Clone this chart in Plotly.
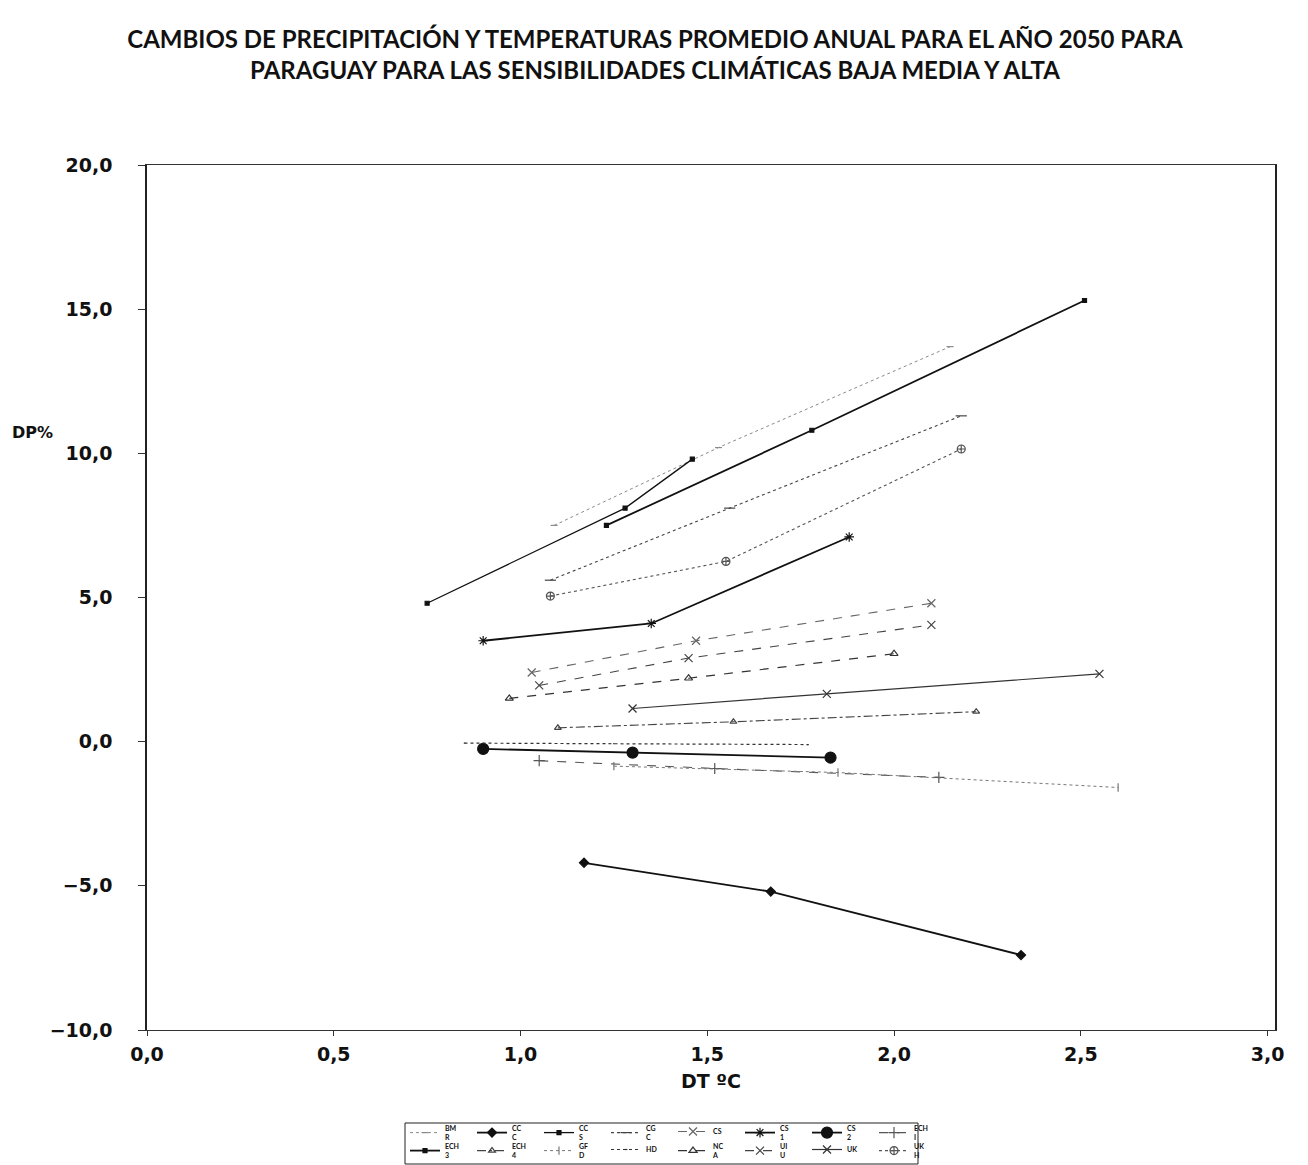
import plotly.graph_objects as go

# Data: DT (°C) and DP (%) for low / medium / high sensitivity
names = ["BM<br>R", "CC<br>C", "CC<br>S", "CG<br>C", "CS", "CS<br>1", "CS<br>2", "ECH<br>I",
         "ECH<br>3", "ECH<br>4", "GF<br>D", "HD", "NC<br>A", "UI<br>U", "UK", "UK<br>H"]

bmr_x = [1.09, 1.53, 2.15];  bmr_y = [7.5, 10.2, 13.7]
ccc_x = [1.17, 1.67, 2.34];  ccc_y = [-4.2, -5.2, -7.4]
ccs_x = [0.75, 1.28, 1.46];  ccs_y = [4.8, 8.1, 9.8]
cgc_x = [1.08, 1.56, 2.18];  cgc_y = [5.6, 8.1, 11.3]
cs_x = [1.03, 1.47, 2.10];   cs_y = [2.4, 3.5, 4.8]
cs1_x = [0.90, 1.35, 1.88];  cs1_y = [3.5, 4.1, 7.1]
cs2_x = [0.90, 1.30, 1.83];  cs2_y = [-0.25, -0.38, -0.55]
ech_x = [1.05, 1.52, 2.12];  ech_y = [-0.66, -0.93, -1.24]
ech3_x = [1.23, 1.78, 2.51]; ech3_y = [7.5, 10.8, 15.3]
ech4_x = [1.10, 1.57, 2.22]; ech4_y = [0.48, 0.69, 1.04]
gfd_x = [1.25, 1.85, 2.60];  gfd_y = [-0.85, -1.07, -1.59]
hd_x = [0.85, 1.25, 1.77];   hd_y = [-0.05, -0.07, -0.10]
nca_x = [0.97, 1.45, 2.00];  nca_y = [1.5, 2.2, 3.05]
uiu_x = [1.05, 1.45, 2.10];  uiu_y = [1.95, 2.9, 4.05]
uk_x = [1.30, 1.82, 2.55];   uk_y = [1.15, 1.66, 2.35]
ukh_x = [1.08, 1.55, 2.18];  ukh_y = [5.05, 6.25, 10.15]

xs = [bmr_x, ccc_x, ccs_x, cgc_x, cs_x, cs1_x, cs2_x, ech_x,
      ech3_x, ech4_x, gfd_x, hd_x, nca_x, uiu_x, uk_x, ukh_x]
ys = [bmr_y, ccc_y, ccs_y, cgc_y, cs_y, cs1_y, cs2_y, ech_y,
      ech3_y, ech4_y, gfd_y, hd_y, nca_y, uiu_y, uk_y, ukh_y]

x_ticks = [0, 0.5, 1.0, 1.5, 2.0, 2.5, 3.0]
y_ticks = [-10, -5, 0, 5, 10, 15, 20]

# styles: (line colour, width, dash, marker symbol, marker size)
styles = [
    ("#8a8a8a", 1.0, "dot", "line-ew-open", 5),
    ("#111111", 1.8, "solid", "diamond", 7),
    ("#111111", 1.3, "solid", "square", 4),
    ("#444444", 1.1, "dot", "line-ew-open", 8),
    ("#666666", 1.1, "dash", "x-thin-open", 8),
    ("#111111", 1.8, "solid", "asterisk-open", 8),
    ("#111111", 1.8, "solid", "circle", 11),
    ("#555555", 1.1, "dash", "cross-thin-open", 8),
    ("#111111", 1.8, "solid", "square", 4),
    ("#444444", 1.1, "dashdot", "triangle-up-open", 6),
    ("#777777", 1.0, "dot", "line-ns-open", 6),
    ("#333333", 1.2, "dot", "line-ew-open", 1),
    ("#333333", 1.2, "dash", "triangle-up-open", 7),
    ("#444444", 1.1, "dash", "x-thin-open", 8),
    ("#333333", 1.2, "solid", "x-thin-open", 8),
    ("#555555", 1.1, "dot", "circle-cross-open", 8),
]

# the page body adds an 8 px margin, so the figure is 8 px smaller and shifted
W, H, OFF = 1300, 1157, 8
PL, PR, PT, PB = 147 - OFF, 1275 - OFF, 165 - OFF, 1030 - OFF

fig = go.Figure()
for i, (n, x, y, st) in enumerate(zip(names, xs, ys, styles)):
    c, w, d, sym, sz = st
    fig.add_trace(go.Scatter(
        x=x, y=y, name=n, mode="lines+markers",
        line=dict(color=c, width=w, dash=d),
        marker=dict(symbol=sym, size=sz, color=c, line=dict(color=c, width=1.2)),
        legend="legend" if i < 8 else "legend2",
    ))

axis_font = dict(family="DejaVu Sans", size=19, color="#111111", weight="bold")
legend_common = dict(orientation="h", xref="container", yref="container",
                     xanchor="left", x=(405 - OFF) / W, yanchor="top",
                     font=dict(family="Lato", size=7, color="#111111", weight="bold"),
                     entrywidth=22, entrywidthmode="pixels", itemwidth=30,
                     bgcolor="rgba(0,0,0,0)", tracegroupgap=0, itemclick=False)

fig.update_layout(
    width=W, height=H,
    margin=dict(l=PL, r=W - PR, t=PT, b=H - PB, autoexpand=False),
    paper_bgcolor="white", plot_bgcolor="white",
    showlegend=True,
    title=dict(text="CAMBIOS DE PRECIPITACIÓN Y TEMPERATURAS PROMEDIO ANUAL PARA EL AÑO 2050 PARA<br>"
                    "PARAGUAY PARA LAS SENSIBILIDADES CLIMÁTICAS BAJA MEDIA Y ALTA",
               x=(655 - OFF) / W, xanchor="center", xref="container", yref="container",
               y=1 - (48 - OFF) / H, yanchor="top",
               font=dict(family="Lato", size=24, color="#111111", weight="bold")),
    separators=",.",
    xaxis=dict(range=[0, 3.02], tickvals=x_ticks, tickformat=".1f", showgrid=False, zeroline=False,
               showline=True, linecolor="#333333", linewidth=1, mirror=True,
               ticks="outside", ticklen=5, tickcolor="#333333", tickfont=axis_font,
               ticklabelstandoff=2,
               title=dict(text="DT ºC", font=dict(family="DejaVu Sans", size=19, color="#111111", weight="bold"),
                          standoff=10)),
    yaxis=dict(range=[-10, 20], tickvals=y_ticks, tickformat=".1f", showgrid=False, zeroline=False,
               showline=True, linecolor="#222222", linewidth=1.5, mirror=True,
               ticks="outside", ticklen=7, tickcolor="#333333", tickfont=axis_font,
               ticklabelstandoff=22),
    legend=dict(y=1 - (1117 - OFF) / H, **legend_common),
    legend2=dict(y=1 - (1135 - OFF) / H, **legend_common),
)

ph = PB - PT
pw = PR - PL
fig.add_annotation(text="DP%", xref="paper", yref="paper", x=-(PL - (10 - OFF)) / pw,
                   y=(PB - (433 - OFF)) / ph,
                   showarrow=False, xanchor="left", yanchor="middle",
                   font=dict(family="DejaVu Sans", size=16, color="#111111", weight="bold"))

fig.add_shape(type="rect", xref="paper", yref="paper",
              x0=(405 - 147) / pw, x1=(918 - 147) / pw,
              y0=-(H - 1 - PB) / ph, y1=-(1123 - 1030) / ph,
              line=dict(color="#222222", width=1), fillcolor="rgba(0,0,0,0)")

fig.write_html("out.html")
